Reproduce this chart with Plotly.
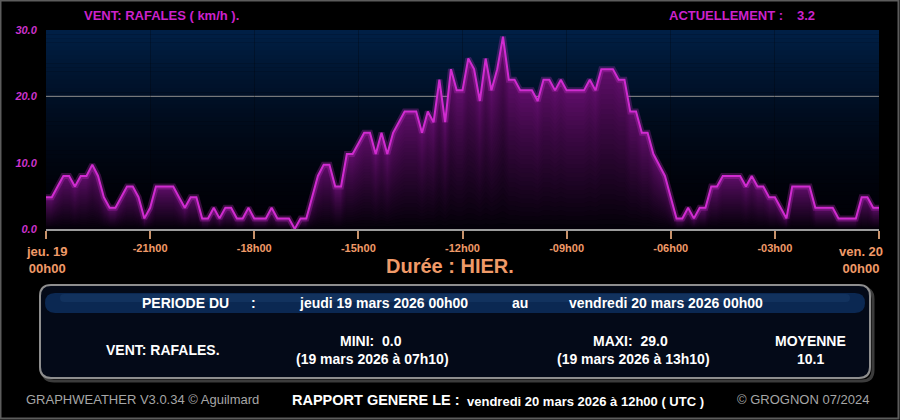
import plotly.graph_objects as go

# ---------------- data ----------------
# gusts every 10 minutes from jeu. 19 00h00 to ven. 20 00h00 (km/h)
GUSTS = [4.8, 4.8, 6.4, 8.0, 8.0, 6.4, 8.0, 8.0, 9.7, 8.0,
         4.8, 3.2, 3.2, 4.8, 6.4, 6.4, 4.8, 1.6, 3.2, 6.4,
         6.4, 6.4, 6.4, 4.8, 3.2, 4.8, 4.8, 1.6, 1.6, 3.2,
         1.6, 3.2, 3.2, 1.6, 1.6, 3.2, 1.6, 1.6, 1.6, 3.2,
         1.6, 1.6, 1.6, 0.0, 1.6, 1.6, 4.8, 8.0, 9.7, 9.7,
         6.4, 6.4, 11.3, 11.3, 12.9, 14.5, 14.5, 11.3, 14.5, 11.3,
         14.5, 16.1, 17.7, 17.7, 17.7, 14.5, 17.7, 16.1, 22.5, 16.1,
         24.1, 20.9, 20.9, 25.7, 24.1, 19.3, 25.7, 20.9, 24.1, 29.0,
         22.5, 22.5, 20.9, 20.9, 20.9, 19.3, 22.5, 22.5, 20.9, 22.5,
         20.9, 20.9, 20.9, 20.9, 22.5, 20.9, 24.1, 24.1, 24.1, 22.5,
         22.5, 17.7, 17.7, 14.5, 14.5, 11.3, 9.7, 8.0, 4.8, 1.6,
         1.6, 3.2, 1.6, 3.2, 3.2, 6.4, 6.4, 8.0, 8.0, 8.0,
         8.0, 6.4, 8.0, 6.4, 6.4, 4.8, 4.8, 3.2, 1.6, 6.4,
         6.4, 6.4, 6.4, 3.2, 3.2, 3.2, 3.2, 1.6, 1.6, 1.6,
         1.6, 4.8, 4.8, 3.2, 3.2]
STEP_MIN = 10
TIMES = [i * STEP_MIN for i in range(len(GUSTS))]   # minutes since start

X_TICKS = [0, 180, 360, 540, 720, 900, 1080, 1260, 1440]
X_TICK_TEXT = ["", "-21h00", "-18h00", "-15h00", "-12h00", "-09h00", "-06h00", "-03h00", ""]
Y_TICKS = [0, 10, 20, 30]
Y_TICK_TEXT = ["0.0", "10.0", "20.0", "30.0"]
GRID_LEVELS = [20]

TITLE = "VENT: RAFALES ( km/h )."
CURRENT_LABEL = "ACTUELLEMENT :"
CURRENT_VALUE = "3.2"
START_LABEL = "jeu. 19<br>00h00"
END_LABEL = "ven. 20<br>00h00"
DURATION = "Durée : HIER."

# ---------------- geometry helpers ----------------
W, H = 900, 420
ML, MR, MT, MB = 46, 21, 30, 191
PW, PH = W - ML - MR, H - MT - MB


def px(xp):
    return (xp - ML) / PW


def py(yp):
    return (H - MB - yp) / PH


def rrect(x0, y0, x1, y1, r):
    pts = [
        ("M", [(x0 + r, y0)]),
        ("L", [(x1 - r, y0)]),
        ("Q", [(x1, y0), (x1, y0 + r)]),
        ("L", [(x1, y1 - r)]),
        ("Q", [(x1, y1), (x1 - r, y1)]),
        ("L", [(x0 + r, y1)]),
        ("Q", [(x0, y1), (x0, y1 - r)]),
        ("L", [(x0, y0 + r)]),
        ("Q", [(x0, y0), (x0 + r, y0)]),
    ]
    s = ""
    for cmd, ps in pts:
        s += cmd + " ".join(f"{px(a):.5f},{py(b):.5f}" for a, b in ps) + " "
    return s + "Z"


def mix(c0, c1, t):
    return tuple(round(a + (b - a) * t) for a, b in zip(c0, c1))


fig = go.Figure()

# ---- area fill: per-column vertical gradient (bands of the value) ----
N_BANDS = 32
TOP_FILL = (100, 14, 110)
BOT_FILL = (3, 0, 8)
for k in range(N_BANDS):
    f = 1 - k / N_BANDS
    t = ((k + 0.5) / N_BANDS) ** 0.8
    c = mix(TOP_FILL, BOT_FILL, t)
    fig.add_trace(go.Scatter(
        x=TIMES, y=[v * f for v in GUSTS], mode="lines",
        line=dict(width=0), fill="tozeroy",
        fillcolor=f"rgb{c}", hoverinfo="skip", showlegend=False))

# glow + line
fig.add_trace(go.Scatter(x=TIMES, y=GUSTS, mode="lines",
                         line=dict(color="rgba(220,50,220,0.25)", width=6),
                         hoverinfo="skip", showlegend=False))
fig.add_trace(go.Scatter(x=TIMES, y=GUSTS, mode="lines",
                         line=dict(color="#d02cd0", width=2),
                         showlegend=False))

shapes = []
# plot background gradient
N_BG = 48
BG_TOP = (0, 32, 70)
BG_BOT = (0, 0, 6)
for i in range(N_BG):
    c = mix(BG_BOT, BG_TOP, (1 - (i + 0.5) / N_BG) ** 1.7)
    shapes.append(dict(type="rect", xref="paper", yref="paper",
                       x0=0, x1=1, y0=1 - (i + 1) / N_BG - 0.002, y1=1 - i / N_BG,
                       fillcolor=f"rgb{c}", line=dict(width=0), layer="below"))

# bottom info panel
shapes.append(dict(type="path", xref="paper", yref="paper", path=rrect(43, 288, 873, 381, 11),
                   fillcolor="rgba(0,0,0,0)", line=dict(color="#3c3c3c", width=3), layer="below"))
shapes.append(dict(type="path", xref="paper", yref="paper", path=rrect(40, 285, 870, 378, 11),
                   fillcolor="#040a18", line=dict(color="#8e8e8e", width=2), layer="below"))
shapes.append(dict(type="path", xref="paper", yref="paper", path=rrect(45, 293, 865, 313, 10),
                   fillcolor="#0b2852", line=dict(width=0), layer="below"))
shapes.append(dict(type="path", xref="paper", yref="paper", path=rrect(60, 294, 850, 302, 4),
                   fillcolor="rgba(40,80,130,0.25)", line=dict(width=0), layer="below"))
# outer frame
shapes.append(dict(type="rect", xref="paper", yref="paper",
                   x0=px(0.5), x1=px(898.5), y0=py(418.5), y1=py(0.5),
                   fillcolor="rgba(0,0,0,0)", line=dict(color="#5c5c5c", width=2), layer="above"))

fig.update_layout(shapes=shapes)

for lvl in GRID_LEVELS:
    fig.add_hline(y=lvl, line=dict(color="#8f8f8f", width=1), layer="below")

FONT = "Liberation Sans, Arial, sans-serif"
MAG = "#cc22cc"
ORANGE = "#f09a68"
WHITE = "#ffffff"
GREY = "#a6a6a6"

ann = []


def text(xp, yp, s, size, color, anchor="left", bold=True, italic=False):
    ann.append(dict(
        x=px(xp), y=py(yp), xref="paper", yref="paper",
        text=s, showarrow=False, xanchor=anchor, yanchor="middle",
        font=dict(family=FONT, size=size, color=color,
                  weight="bold" if bold else "normal",
                  style="italic" if italic else "normal")))


text(82, 15, TITLE, 13, MAG)
text(667, 15, CURRENT_LABEL, 13, MAG)
text(795, 15, CURRENT_VALUE, 13, MAG)
text(46, 260, START_LABEL, 13, ORANGE, anchor="center")
text(861, 260, END_LABEL, 13, ORANGE, anchor="center")
text(450, 266, DURATION, 20, ORANGE, anchor="center")

# panel text
text(140, 303, "PERIODE DU", 14, WHITE)
text(253, 303, ":", 14, WHITE, anchor="center")
text(297, 303, "jeudi 19 mars 2026 00h00", 14, WHITE)
text(510, 303, "au", 14, WHITE)
text(567, 303, "vendredi 20 mars 2026 00h00", 14, WHITE)
text(163, 350, "VENT: RAFALES.", 14, WHITE, anchor="center")
text(371, 341, "MINI:&nbsp; 0.0", 14, WHITE, anchor="center")
text(372, 359, "(19 mars 2026 à 07h10)", 14, WHITE, anchor="center")
text(630, 341, "MAXI:&nbsp; 29.0", 14, WHITE, anchor="center")
text(633, 359, "(19 mars 2026 à 13h10)", 14, WHITE, anchor="center")
text(810, 341, "MOYENNE", 14, WHITE, anchor="center")
text(810, 359, "10.1", 14, WHITE, anchor="center")

# footer
text(24, 400, "GRAPHWEATHER V3.0.34 © Aguilmard", 13, GREY, bold=False)
text(290, 400, "RAPPORT GENERE LE :", 14.5, WHITE)
text(465, 401, "vendredi 20 mars 2026 à 12h00 ( UTC )", 13, WHITE)
text(735, 400, "© GROGNON 07/2024", 13, GREY, bold=False)

fig.update_layout(
    width=W, height=H,
    margin=dict(l=ML, r=MR, t=MT, b=MB, pad=0),
    paper_bgcolor="#000000", plot_bgcolor="#000000",
    annotations=ann,
    showlegend=False,
    xaxis=dict(range=[0, 1440], tickvals=X_TICKS, ticktext=X_TICK_TEXT,
               showgrid=True, gridcolor="rgba(0,0,0,0.25)", gridwidth=1,
               zeroline=False, showline=True, linecolor="#9c9c9c", linewidth=2,
               ticks="outside", ticklen=8, tickwidth=2, tickcolor="#c8926a",
               tickfont=dict(family=FONT, size=11, color=ORANGE, weight="bold"),
               fixedrange=True),
    yaxis=dict(range=[0, 30], tickvals=Y_TICKS, ticktext=Y_TICK_TEXT,
               showgrid=False, zeroline=False, showline=False,
               ticks="outside", ticklen=6, tickcolor="rgba(0,0,0,0)",
               tickfont=dict(family=FONT, size=11, color="#cc33cc", weight="bold", style="italic"),
               fixedrange=True),
)

fig.write_html("out.html", config={"displayModeBar": False},
               post_script="document.body.style.margin='0';document.body.style.background='#000';")
